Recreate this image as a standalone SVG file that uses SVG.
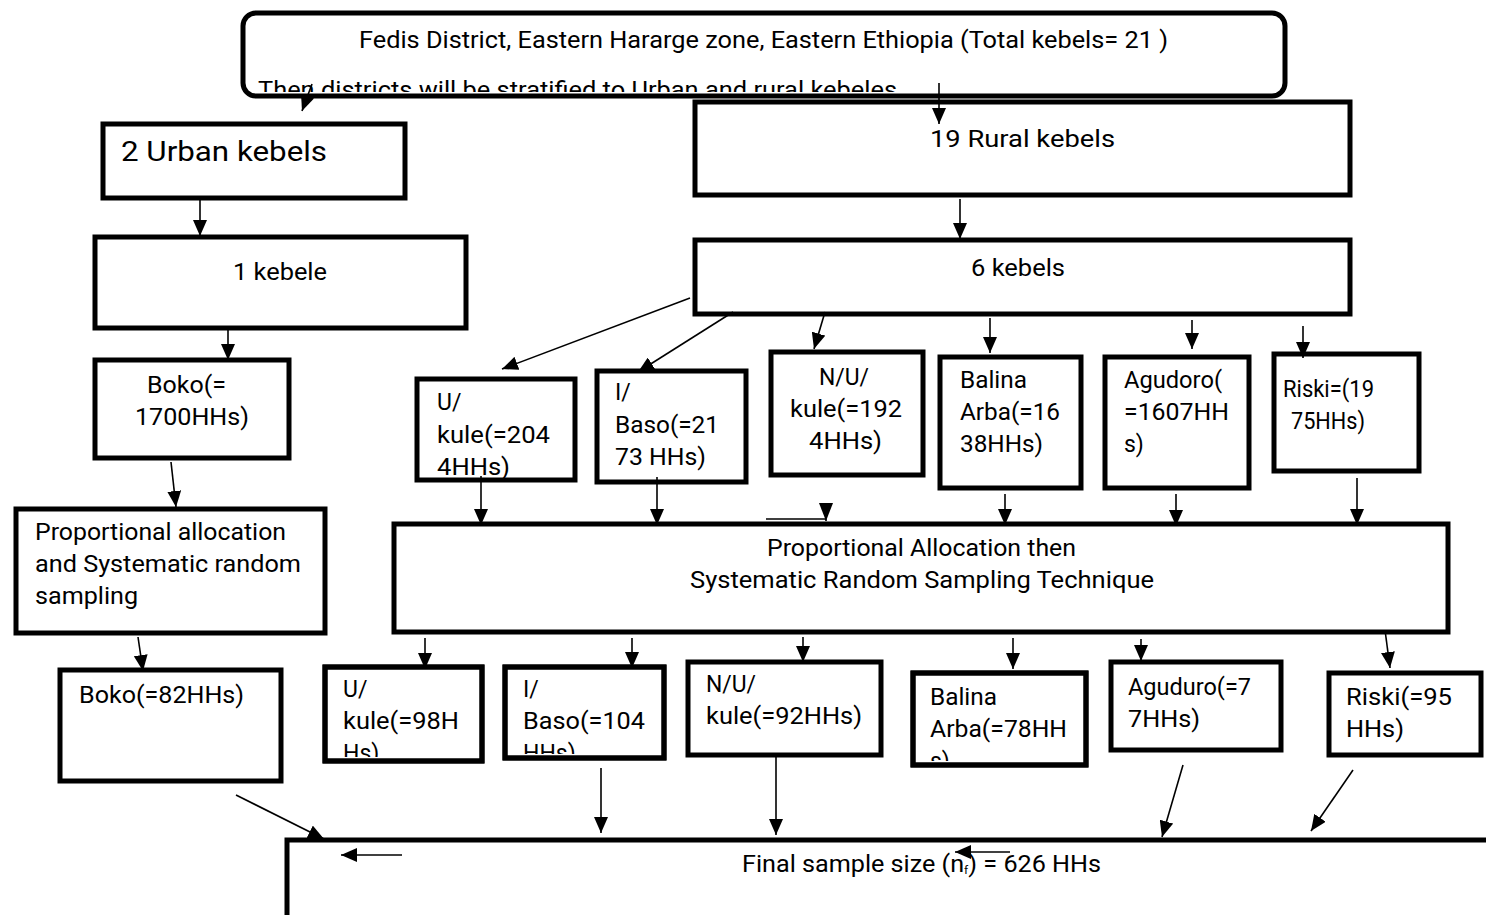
<svg xmlns="http://www.w3.org/2000/svg" width="1486" height="915" viewBox="0 0 1486 915">
<style>
.box{fill:#fff;stroke:#000;stroke-width:5}
.bf{fill:#fff;stroke:none}
.bs{fill:none;stroke:#000;stroke-width:5}
.t{font-family:Roboto,"Liberation Sans",sans-serif;font-size:23px;fill:#000}
.c{stroke:#000;stroke-width:1.6;fill:none}
</style>
<defs>
<marker id="ah" markerUnits="userSpaceOnUse" markerWidth="17" markerHeight="14" refX="16" refY="7" orient="auto">
<path d="M0,0 L16,7 L0,14 z" fill="#000"/>
</marker>
<clipPath id="cTop"><rect x="241" y="11" width="1046" height="81"/></clipPath>
<clipPath id="cU2"><rect x="323" y="665" width="161" height="92"/></clipPath>
<clipPath id="cI2"><rect x="503" y="665" width="163" height="89"/></clipPath>
<clipPath id="cB2"><rect x="911" y="671" width="177" height="90"/></clipPath>
</defs>
<rect width="1486" height="915" fill="#fff"/>

<g id="n-top">
<rect class="box" x="243" y="13" width="1042" height="83" rx="13"/>
<text class="t" x="359" y="48" textLength="809" lengthAdjust="spacingAndGlyphs">Fedis District, Eastern Hararge zone, Eastern Ethiopia (Total kebels= 21 )</text>
<g clip-path="url(#cTop)"><text class="t" x="258" y="98" textLength="639" lengthAdjust="spacingAndGlyphs">Then districts will be stratified to Urban and rural kebeles</text></g>
</g>

<g id="n-urban">
<rect class="box" x="103" y="124" width="302" height="74"/>
<text class="t" x="121" y="161" style="font-size:28px" textLength="206" lengthAdjust="spacingAndGlyphs">2 Urban kebels</text>
</g>
<g id="n-1kebele">
<rect class="box" x="95" y="237" width="371" height="91"/>
<text class="t" x="233" y="280" textLength="94" lengthAdjust="spacingAndGlyphs">1 kebele</text>
</g>
<g id="n-boko">
<rect class="box" x="95" y="360" width="194" height="98"/>
<text class="t" x="147" y="393" textLength="79" lengthAdjust="spacingAndGlyphs">Boko(=</text>
<text class="t" x="135" y="425" textLength="114" lengthAdjust="spacingAndGlyphs">1700HHs)</text>
</g>
<g id="n-prop-left">
<rect class="box" x="16" y="509" width="309" height="124"/>
<text class="t" x="35" y="540" textLength="251" lengthAdjust="spacingAndGlyphs">Proportional allocation</text>
<text class="t" x="35" y="572" textLength="266" lengthAdjust="spacingAndGlyphs">and Systematic random</text>
<text class="t" x="35" y="604" textLength="103" lengthAdjust="spacingAndGlyphs">sampling</text>
</g>
<g id="n-boko82">
<rect class="box" x="60" y="670" width="221" height="111"/>
<text class="t" x="79" y="703" textLength="165" lengthAdjust="spacingAndGlyphs">Boko(=82HHs)</text>
</g>

<g id="n-rural">
<rect class="box" x="695" y="102" width="655" height="93"/>
<text class="t" x="930" y="147" textLength="185" lengthAdjust="spacingAndGlyphs">19 Rural kebels</text>
</g>
<g id="n-6kebels">
<rect class="box" x="695" y="240" width="655" height="74"/>
<text class="t" x="971" y="276" textLength="94" lengthAdjust="spacingAndGlyphs">6 kebels</text>
</g>

<g id="n-ukule">
<rect class="box" x="417" y="379" width="158" height="101"/>
<text class="t" x="437" y="410">U/</text>
<text class="t" x="437" y="443" textLength="113" lengthAdjust="spacingAndGlyphs">kule(=204</text>
<text class="t" x="437" y="475" textLength="73" lengthAdjust="spacingAndGlyphs">4HHs)</text>
</g>
<g id="n-ibaso">
<rect class="box" x="597" y="371" width="149" height="111"/>
<text class="t" x="615" y="400">I/</text>
<text class="t" x="615" y="433" textLength="104" lengthAdjust="spacingAndGlyphs">Baso(=21</text>
<text class="t" x="615" y="465" textLength="91" lengthAdjust="spacingAndGlyphs">73 HHs)</text>
</g>
<g id="n-nukule">
<rect class="box" x="771" y="352" width="152" height="123"/>
<text class="t" x="819" y="385" textLength="50" lengthAdjust="spacingAndGlyphs">N/U/</text>
<text class="t" x="790" y="417" textLength="112" lengthAdjust="spacingAndGlyphs">kule(=192</text>
<text class="t" x="809" y="449" textLength="73" lengthAdjust="spacingAndGlyphs">4HHs)</text>
</g>
<g id="n-balina">
<rect class="box" x="940" y="357" width="141" height="131"/>
<text class="t" x="960" y="388" textLength="67" lengthAdjust="spacingAndGlyphs">Balina</text>
<text class="t" x="960" y="420" textLength="100" lengthAdjust="spacingAndGlyphs">Arba(=16</text>
<text class="t" x="960" y="452" textLength="83" lengthAdjust="spacingAndGlyphs">38HHs)</text>
</g>
<g id="n-agudoro">
<rect class="box" x="1105" y="357" width="144" height="131"/>
<text class="t" x="1124" y="388" textLength="98" lengthAdjust="spacingAndGlyphs">Agudoro(</text>
<text class="t" x="1124" y="420" textLength="105" lengthAdjust="spacingAndGlyphs">=1607HH</text>
<text class="t" x="1124" y="452">s)</text>
</g>
<g id="n-riski">
<rect class="box" x="1274" y="354" width="145" height="117"/>
<text class="t" x="1283" y="397" textLength="91" lengthAdjust="spacingAndGlyphs">Riski=(19</text>
<text class="t" x="1291" y="429" textLength="74" lengthAdjust="spacingAndGlyphs">75HHs)</text>
</g>

<g id="n-prop-right">
<rect class="box" x="394" y="524" width="1054" height="108"/>
<text class="t" x="767" y="556" textLength="309" lengthAdjust="spacingAndGlyphs">Proportional Allocation then</text>
<text class="t" x="690" y="588" textLength="464" lengthAdjust="spacingAndGlyphs">Systematic Random Sampling Technique</text>
</g>

<g id="n-ukule98">
<rect class="box" x="325" y="667" width="157" height="94"/>
<g clip-path="url(#cU2)">
<text class="t" x="343" y="697">U/</text>
<text class="t" x="343" y="729" textLength="116" lengthAdjust="spacingAndGlyphs">kule(=98H</text>
<text class="t" x="343" y="761">Hs)</text>
</g>
<rect class="bs" x="325" y="667" width="157" height="94"/>
</g>
<g id="n-ibaso104">
<rect class="box" x="505" y="667" width="159" height="91"/>
<g clip-path="url(#cI2)">
<text class="t" x="523" y="697">I/</text>
<text class="t" x="523" y="729" textLength="122" lengthAdjust="spacingAndGlyphs">Baso(=104</text>
<text class="t" x="523" y="761">HHs)</text>
</g>
<rect class="bs" x="505" y="667" width="159" height="91"/>
</g>
<g id="n-nukule92">
<rect class="box" x="688" y="662" width="193" height="93"/>
<text class="t" x="706" y="692" textLength="50" lengthAdjust="spacingAndGlyphs">N/U/</text>
<text class="t" x="706" y="724" textLength="156" lengthAdjust="spacingAndGlyphs">kule(=92HHs)</text>
</g>
<g id="n-balina78">
<rect class="box" x="913" y="673" width="173" height="92"/>
<g clip-path="url(#cB2)">
<text class="t" x="930" y="705" textLength="67" lengthAdjust="spacingAndGlyphs">Balina</text>
<text class="t" x="930" y="737" textLength="137" lengthAdjust="spacingAndGlyphs">Arba(=78HH</text>
<text class="t" x="930" y="769">s)</text>
</g>
<rect class="bs" x="913" y="673" width="173" height="92"/>
</g>
<g id="n-aguduro77">
<rect class="box" x="1111" y="662" width="170" height="88"/>
<text class="t" x="1128" y="695" textLength="123" lengthAdjust="spacingAndGlyphs">Aguduro(=7</text>
<text class="t" x="1128" y="727" textLength="72" lengthAdjust="spacingAndGlyphs">7HHs)</text>
</g>
<g id="n-riski95">
<rect class="box" x="1329" y="673" width="152" height="82"/>
<text class="t" x="1346" y="705" textLength="106" lengthAdjust="spacingAndGlyphs">Riski(=95</text>
<text class="t" x="1346" y="737" textLength="58" lengthAdjust="spacingAndGlyphs">HHs)</text>
</g>

<g id="n-final">
<path d="M287,915 V840 H1490" fill="none" stroke="#000" stroke-width="5"/>
<text class="t" x="742" y="872" textLength="359" lengthAdjust="spacingAndGlyphs">Final sample size (n<tspan style="font-size:11px" dy="2">f</tspan><tspan dy="-2">) = 626 HHs</tspan></text>
</g>

<g id="connectors">
<line class="c" x1="312" y1="84" x2="302" y2="111" marker-end="url(#ah)"/>
<line class="c" x1="939" y1="83" x2="939" y2="124" marker-end="url(#ah)"/>
<line class="c" x1="200" y1="197" x2="200" y2="236" marker-end="url(#ah)"/>
<line class="c" x1="228" y1="326" x2="228" y2="360" marker-end="url(#ah)"/>
<line class="c" x1="171" y1="462" x2="176" y2="507" marker-end="url(#ah)"/>
<line class="c" x1="138" y1="637" x2="143" y2="671" marker-end="url(#ah)"/>
<line class="c" x1="236" y1="795" x2="324" y2="839" marker-end="url(#ah)"/>
<line class="c" x1="960" y1="199" x2="960" y2="239" marker-end="url(#ah)"/>
<line class="c" x1="690" y1="298" x2="502" y2="369" marker-end="url(#ah)"/>
<line class="c" x1="733" y1="312" x2="638" y2="372" marker-end="url(#ah)"/>
<line class="c" x1="825" y1="312" x2="814" y2="349" marker-end="url(#ah)"/>
<line class="c" x1="990" y1="318" x2="990" y2="353" marker-end="url(#ah)"/>
<line class="c" x1="1192" y1="320" x2="1192" y2="349" marker-end="url(#ah)"/>
<line class="c" x1="1303" y1="326" x2="1303" y2="358" marker-end="url(#ah)"/>
<line class="c" x1="481" y1="476" x2="481" y2="525" marker-end="url(#ah)"/>
<line class="c" x1="657" y1="477" x2="657" y2="525" marker-end="url(#ah)"/>
<path class="c" d="M766,519 H826 V521"/>
<path d="M819,503 L833,503 L826,521 z" fill="#000"/>
<line class="c" x1="1005" y1="494" x2="1005" y2="525" marker-end="url(#ah)"/>
<line class="c" x1="1176" y1="494" x2="1176" y2="526" marker-end="url(#ah)"/>
<line class="c" x1="1357" y1="478" x2="1357" y2="525" marker-end="url(#ah)"/>
<line class="c" x1="425" y1="638" x2="425" y2="669" marker-end="url(#ah)"/>
<line class="c" x1="632" y1="638" x2="632" y2="668" marker-end="url(#ah)"/>
<line class="c" x1="803" y1="637" x2="803" y2="662" marker-end="url(#ah)"/>
<line class="c" x1="1013" y1="638" x2="1013" y2="669" marker-end="url(#ah)"/>
<line class="c" x1="1141" y1="639" x2="1141" y2="661" marker-end="url(#ah)"/>
<line class="c" x1="1385" y1="630" x2="1390" y2="668" marker-end="url(#ah)"/>
<line class="c" x1="601" y1="768" x2="601" y2="833" marker-end="url(#ah)"/>
<line class="c" x1="776" y1="755" x2="776" y2="835" marker-end="url(#ah)"/>
<line class="c" x1="1183" y1="765" x2="1162" y2="837" marker-end="url(#ah)"/>
<line class="c" x1="1353" y1="770" x2="1311" y2="831" marker-end="url(#ah)"/>
<line class="c" x1="402" y1="855" x2="341" y2="855" marker-end="url(#ah)"/>
<line class="c" x1="1010" y1="852" x2="955" y2="852" marker-end="url(#ah)"/>
</g>
</svg>
